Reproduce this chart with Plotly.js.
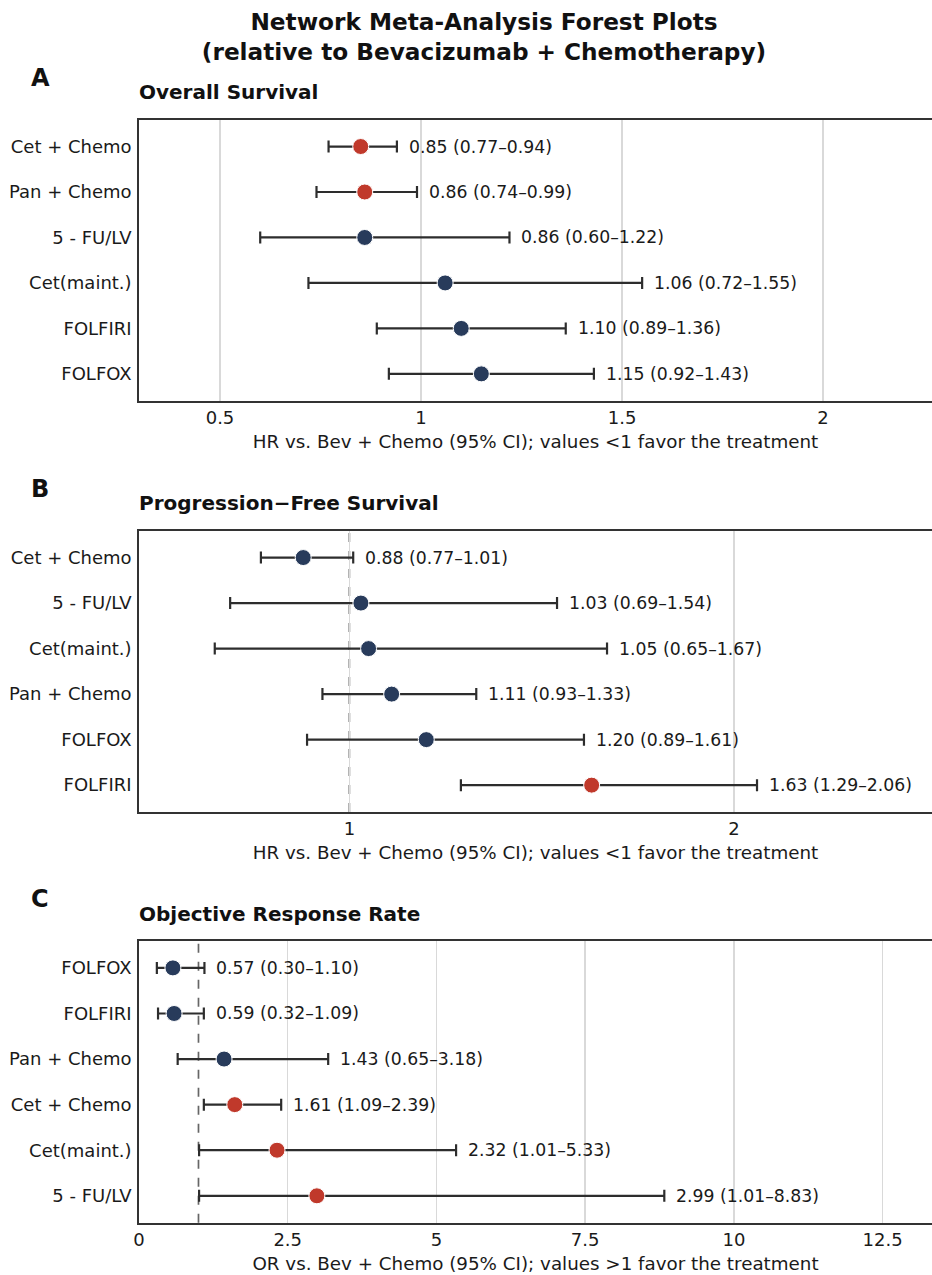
<!DOCTYPE html>
<html>
<head>
<meta charset="utf-8">
<script src="https://cdn.plot.ly/plotly-3.0.1.min.js"></script>
<style>html,body{margin:0;padding:0;background:#fff;}#chart{width:932px;height:1275px;}</style>
</head>
<body>
<div id="chart"></div>
<script>
// ---- Data ----
const osLabels = ['Cet + Chemo', 'Pan + Chemo', '5 - FU/LV', 'Cet(maint.)', 'FOLFIRI', 'FOLFOX'];
const osEst  = [0.85, 0.86, 0.86, 1.06, 1.10, 1.15];
const osLow  = [0.77, 0.74, 0.60, 0.72, 0.89, 0.92];
const osHigh = [0.94, 0.99, 1.22, 1.55, 1.36, 1.43];

const pfsLabels = ['Cet + Chemo', '5 - FU/LV', 'Cet(maint.)', 'Pan + Chemo', 'FOLFOX', 'FOLFIRI'];
const pfsEst  = [0.88, 1.03, 1.05, 1.11, 1.20, 1.63];
const pfsLow  = [0.77, 0.69, 0.65, 0.93, 0.89, 1.29];
const pfsHigh = [1.01, 1.54, 1.67, 1.33, 1.61, 2.06];

const orrLabels = ['FOLFOX', 'FOLFIRI', 'Pan + Chemo', 'Cet + Chemo', 'Cet(maint.)', '5 - FU/LV'];
const orrEst  = [0.57, 0.59, 1.43, 1.61, 2.32, 2.99];
const orrLow  = [0.30, 0.32, 0.65, 1.09, 1.01, 1.01];
const orrHigh = [1.10, 1.09, 3.18, 2.39, 5.33, 8.83];

const osTicks  = [0.5, 1, 1.5, 2];
const pfsTicks = [1, 2];
const orrTicks = [0, 2.5, 5, 7.5, 10, 12.5];
const nullValue = 1;

const panelTitles = ['Overall Survival', 'Progression\u2212Free Survival', 'Objective Response Rate'];
const panelLetters = ['A', 'B', 'C'];
const axisTitles = [
  'HR vs. Bev + Chemo (95% CI); values <1 favor the treatment',
  'HR vs. Bev + Chemo (95% CI); values <1 favor the treatment',
  'OR vs. Bev + Chemo (95% CI); values >1 favor the treatment'
];

// ---- Style ----
const RED = '#c0392b';
const NAVY = '#283b5b';
const FONT = 'DejaVu Sans, Verdana, sans-serif';
const W = 932, H = 1275, L = 139, B = 50;

const panels = [
  {labels: osLabels, est: osEst, lo: osLow, hi: osHigh, ticks: osTicks, range: [0.2985, 2.271], top: 119.7, bottom: 400.7},
  {labels: pfsLabels, est: pfsEst, lo: pfsLow, hi: pfsHigh, ticks: pfsTicks, range: [0.453, 2.515], top: 530.7, bottom: 812},
  {labels: orrLabels, est: orrEst, lo: orrLow, hi: orrHigh, ticks: orrTicks, range: [0, 13.33], top: 941, bottom: 1222.7}
];

const traces = [];
const annotations = [];
const shapes = [];
const layout = {
  width: W, height: H,
  margin: {l: L, r: 0, t: 0, b: B},
  paper_bgcolor: '#fff', plot_bgcolor: '#fff',
  showlegend: false,
  font: {family: FONT, size: 17, color: '#1a1a1a'},
  title: {
    text: '<b>Network Meta-Analysis Forest Plots<br>(relative to Bevacizumab + Chemotherapy)</b>',
    font: {family: FONT, size: 23.2, color: '#111'},
    x: 484 / W, xref: 'container', xanchor: 'center',
    y: 1 - 30 / H, yref: 'container', yanchor: 'middle'
  },
  annotations: annotations,
  shapes: shapes
};

const py = p => (H - B - p) / (H - B);
const px = p => (p - L) / (W - L);

panels.forEach((p, k) => {
  const n = k + 1;
  const xa = 'x' + (n === 1 ? '' : n);
  const ya = 'y' + (n === 1 ? '' : n);
  const colors = p.est.map((_, i) => (p.hi[i] < nullValue || p.lo[i] > nullValue) ? RED : NAVY);
  traces.push({
    type: 'scatter', mode: 'markers',
    x: p.est, y: p.labels,
    xaxis: xa, yaxis: ya,
    marker: {size: 16, color: colors, line: {color: '#fff', width: 1}},
    error_x: {
      type: 'data', symmetric: false,
      array: p.hi.map((h, i) => h - p.est[i]),
      arrayminus: p.lo.map((l, i) => p.est[i] - l),
      color: '#2d2d2d', thickness: 2.2, width: 6
    },
    hoverinfo: 'skip'
  });
  layout['xaxis' + (n === 1 ? '' : n)] = {
    anchor: ya, domain: [0, 1],
    range: p.range,
    tickmode: 'array', tickvals: p.ticks, ticktext: p.ticks.map(String),
    showgrid: true, gridcolor: '#d9d9d9', gridwidth: 1.5,
    zeroline: false,
    showline: true, mirror: true, linecolor: '#333', linewidth: 1.8,
    ticks: '',
    tickfont: {family: FONT, size: 18, color: '#1a1a1a'},
    title: {text: axisTitles[k], font: {family: FONT, size: 18.3, color: '#1a1a1a'}, standoff: 8}
  };
  layout['yaxis' + (n === 1 ? '' : n)] = {
    anchor: xa,
    domain: [py(p.bottom), py(p.top)],
    type: 'category',
    categoryorder: 'array', categoryarray: p.labels,
    range: [p.labels.length - 1 + 0.59, -0.59],
    showgrid: false, zeroline: false,
    showline: true, mirror: false, linecolor: '#333', linewidth: 1.8,
    ticks: 'outside', ticklen: 2, tickcolor: 'rgba(0,0,0,0)',
    tickfont: {family: FONT, size: 18, color: '#1a1a1a'}
  };
  shapes.push({
    type: 'line', xref: xa, yref: ya + ' domain',
    x0: nullValue, x1: nullValue, y0: 0, y1: 1,
    line: {color: '#666', width: 1.7, dash: 'dash'},
    layer: 'below'
  });
  p.labels.forEach((lab, i) => {
    annotations.push({
      xref: xa, yref: ya, x: p.hi[i], y: lab,
      text: p.est[i].toFixed(2) + ' (' + p.lo[i].toFixed(2) + '\u2013' + p.hi[i].toFixed(2) + ')',
      showarrow: false, xanchor: 'left', yanchor: 'middle', xshift: 10,
      font: {family: FONT, size: 17.3, color: '#1a1a1a'}
    });
  });
  annotations.push({
    xref: 'paper', yref: 'paper', x: px(29), y: py(p.top - 41.5),
    text: '<b>' + panelLetters[k] + '</b>', showarrow: false,
    xanchor: 'left', yanchor: 'middle',
    font: {family: FONT, size: 24, color: '#111'}
  });
  annotations.push({
    xref: 'paper', yref: 'paper', x: px(L - 2), y: py(p.top - 27.5),
    text: '<b>' + panelTitles[k] + '</b>', showarrow: false,
    xanchor: 'left', yanchor: 'middle',
    font: {family: FONT, size: 20, color: '#111'}
  });
});

Plotly.newPlot('chart', traces, layout, {displayModeBar: false, staticPlot: true});
</script>
</body>
</html>
